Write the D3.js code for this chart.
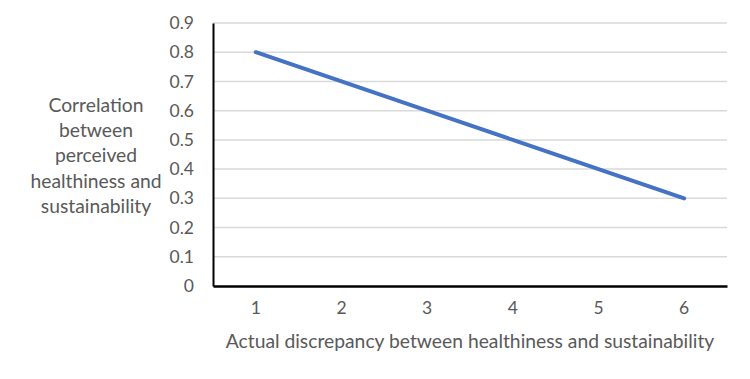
<!DOCTYPE html>
<html>
<head>
<meta charset="utf-8">
<script src="https://cdn.jsdelivr.net/npm/d3@7"></script>
<style>
    body { margin: 0; background: #fff; }
    .gridline { stroke: #d9d9d9; stroke-width: 1.5; }
    text { font-family: Lato, "Open Sans", sans-serif; fill: #595959; }
</style>
</head>
<body>
<div id="chart"></div>
<script>
// data
let categories = [1, 2, 3, 4, 5, 6];
let correlation = [0.8, 0.7, 0.6, 0.5, 0.4, 0.3];
let yTicks = [0, 0.1, 0.2, 0.3, 0.4, 0.5, 0.6, 0.7, 0.8, 0.9];
let yTitle = ["Correlation", "between", "perceived", "healthiness and", "sustainability"];
let xTitle = "Actual discrepancy between healthiness and sustainability";

let W = 750, H = 379;
let margin = {top: 23, right: 23, bottom: 93, left: 213};
let width = W - margin.left - margin.right;
let height = H - margin.top - margin.bottom;

let svg = d3.select("#chart").append("svg")
    .attr("width", W)
    .attr("height", H);

let g = svg.append("g")
    .attr("transform", "translate(" + margin.left + "," + margin.top + ")");

let xScale = d3.scaleBand()
    .domain(categories)
    .range([0, width]);

let yScale = d3.scaleLinear()
    .domain([0, 0.9])
    .range([height, 0]);

// horizontal gridlines
g.append("g")
    .selectAll("line")
    .data(yTicks.slice(1))
    .join("line")
    .classed("gridline", true)
    .attr("x1", 0)
    .attr("x2", width)
    .attr("y1", d => yScale(d))
    .attr("y2", d => yScale(d));

// y axis
let yAxis = d3.axisLeft(yScale)
    .tickValues(yTicks)
    .tickSize(0)
    .tickPadding(19)
    .tickFormat(d => d === 0 ? "0" : d3.format(".1f")(d));

g.append("g")
    .call(yAxis)
    .call(function(a) {
        a.select(".domain").attr("stroke", "#000").attr("stroke-width", 2);
        a.selectAll("text").style("font-size", "17.5px").attr("fill", "#595959");
    });

// x axis
let xAxis = d3.axisBottom(xScale)
    .tickSize(0)
    .tickPadding(16);

g.append("g")
    .attr("transform", "translate(0," + height + ")")
    .call(xAxis)
    .call(function(a) {
        a.select(".domain").attr("stroke", "#000").attr("stroke-width", 2.5);
        a.selectAll("text").style("font-size", "17.5px").attr("fill", "#595959");
    });

// the line
let line = d3.line()
    .x((d, i) => xScale(categories[i]) + xScale.bandwidth() / 2)
    .y(d => yScale(d));

g.append("path")
    .datum(correlation)
    .attr("fill", "none")
    .attr("stroke", "#4472C4")
    .attr("stroke-width", 4)
    .attr("stroke-linecap", "round")
    .attr("d", line);

// axis titles
svg.append("text")
    .attr("x", 470)
    .attr("y", 348)
    .attr("text-anchor", "middle")
    .style("font-size", "19.3px")
    .text(xTitle);

svg.append("text")
    .attr("text-anchor", "middle")
    .style("font-size", "19.3px")
    .selectAll("tspan")
    .data(yTitle)
    .join("tspan")
    .attr("x", 96)
    .attr("y", (d, i) => 112 + i * 25.2)
    .text(d => d);
</script>
</body>
</html>
